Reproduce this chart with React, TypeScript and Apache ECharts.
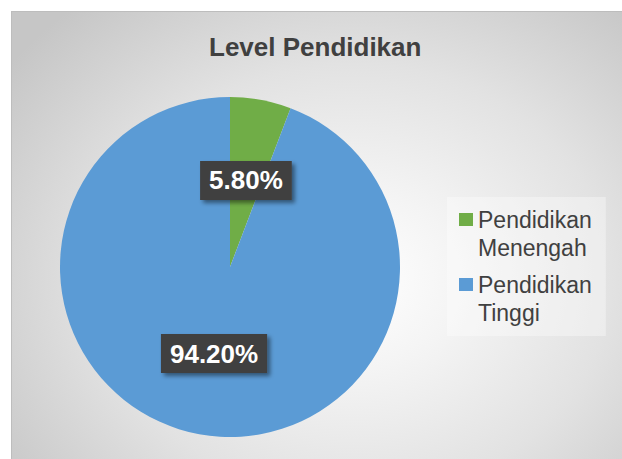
import React, { useEffect, useRef } from 'react';
import * as echarts from 'echarts';

const categories = ['Pendidikan Menengah', 'Pendidikan Tinggi'];
const values = [5.8, 94.2];
const sliceColors = ['#70AD47', '#5B9BD5'];
const titleText = 'Level Pendidikan';

const FONT = 'Liberation Sans';

export default function App() {
  const ref = useRef<HTMLDivElement>(null);

  useEffect(() => {
    const chart = echarts.init(ref.current!, null, { renderer: 'svg' });
    chart.setOption({
      animation: false,
      backgroundColor: 'transparent',
      title: {
        text: titleText,
        left: 209,
        top: 34,
        padding: 0,
        textStyle: { fontFamily: FONT, fontSize: 26, fontWeight: 'bold', color: '#404040' },
      },
      legend: {
        orient: 'vertical',
        left: 447,
        top: 197,
        padding: [8.5, 14, 9.5, 12],
        backgroundColor: 'rgba(255,255,255,0.35)',
        itemGap: 9,
        itemWidth: 14,
        itemHeight: 56,
        icon: 'path://M0,0h0.01v0.01h-0.01zM0,7.5h14v13h-14zM0,55.99h0.01v0.01h-0.01z',
        itemStyle: { borderWidth: 0 },
        data: categories,
        formatter: (name: string) => name.replace(' ', '\n'),
        textStyle: { fontFamily: FONT, fontSize: 23, lineHeight: 28, color: '#404040' },
        selectedMode: false,
      },
      series: [
        {
          type: 'pie',
          center: [230, 267],
          radius: 170,
          startAngle: 90,
          clockwise: true,
          silent: true,
          itemStyle: { borderWidth: 0 },
          label: {
            show: true,
            position: 'inside',
            formatter: (p: any) => p.percent.toFixed(2) + '%',
            fontFamily: FONT,
            fontSize: 26,
            fontWeight: 'bold',
            color: '#ffffff',
            lineHeight: 27,
            backgroundColor: '#414141',
            padding: [6, 9, 6, 9],
            shadowColor: 'rgba(0,0,0,0.45)',
            shadowBlur: 4,
            shadowOffsetX: 3,
            shadowOffsetY: 3,
          },
          labelLine: { show: false },
          data: categories.map((c, i) => ({
            name: c,
            value: values[i],
            itemStyle: { color: sliceColors[i] },
          })),
        },
      ],
    });
    return () => chart.dispose();
  }, []);

  return (
    <div style={{ position: 'absolute', left: 0, top: 0, width: 622, height: 459, background: '#ffffff', overflow: 'hidden' }}>
      <div
        style={{
          position: 'absolute',
          left: 11,
          top: 11,
          width: 611,
          height: 448,
          boxSizing: 'border-box',
          borderLeft: '1px solid #bdbdbd',
          borderTop: '1px solid #bdbdbd',
          background:
            'radial-gradient(ellipse 430px 360px at 56% 60%, #ffffff 0%, #f4f4f4 25%, #e2e2e2 60%, #cdcdcd 90%, #c6c6c6 100%)',
        }}
      />
      <div ref={ref} style={{ position: 'absolute', left: 0, top: 0, width: 622, height: 459 }} />
    </div>
  );
}
